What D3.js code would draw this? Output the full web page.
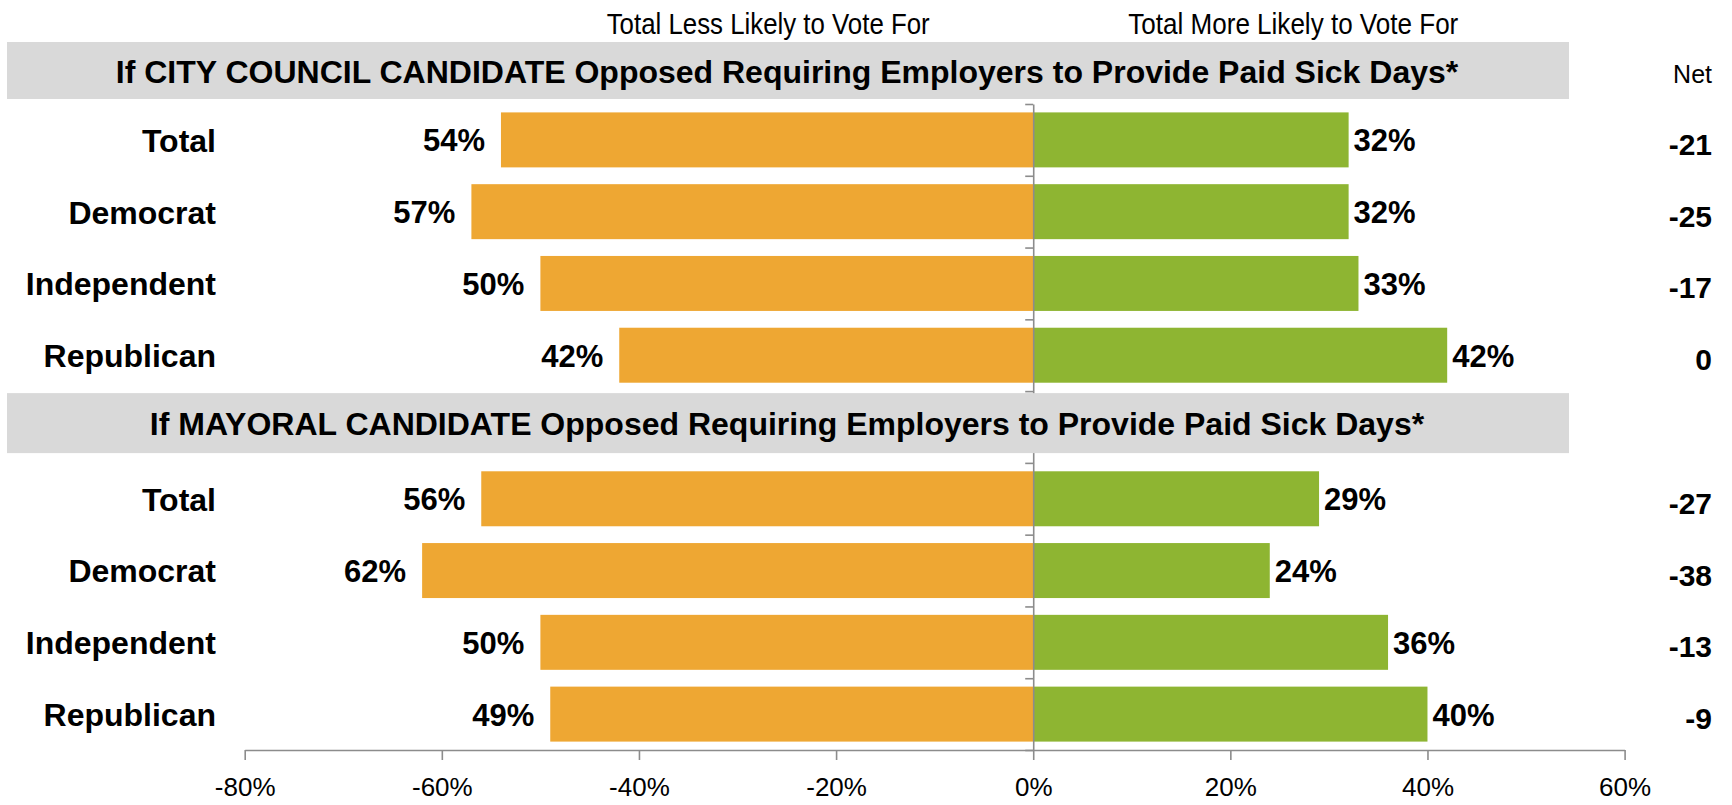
<!DOCTYPE html>
<html>
<head>
<meta charset="utf-8">
<script src="https://cdn.jsdelivr.net/npm/d3@7"></script>
<style>
  html, body { margin: 0; padding: 0; background: #ffffff; }
  svg { display: block; }
  text { font-family: "Liberation Sans", Arial, Helvetica, sans-serif; fill: #000; }
</style>
</head>
<body>
<svg id="chart" width="1732" height="805"></svg>
<script>
// ---------------- data ----------------
const categories = ["Total", "Democrat", "Independent", "Republican"];
const panelTitles = [
  "If CITY COUNCIL CANDIDATE Opposed Requiring Employers to Provide Paid Sick Days*",
  "If MAYORAL CANDIDATE Opposed Requiring Employers to Provide Paid Sick Days*"
];
const councilLess = [54, 57, 50, 42];
const councilMore = [32, 32, 33, 42];
const councilNet  = [-21, -25, -17, 0];
const mayorLess   = [56, 62, 50, 49];
const mayorMore   = [29, 24, 36, 40];
const mayorNet    = [-27, -38, -13, -9];
const xTickValues = [-80, -60, -40, -20, 0, 20, 40, 60];
const headerLess = "Total Less Likely to Vote For";
const headerMore = "Total More Likely to Vote For";
const netHeader = "Net";

// ---------------- layout ----------------
const svg = d3.select("#chart");
const font = '"Liberation Sans", Arial, Helvetica, sans-serif';
const orange = "#EEA733", green = "#8EB532", band = "#D9D9D9", axisGray = "#8C8C8C";

const rows = [];
categories.forEach((c, i) => rows.push({key: "c" + i, cat: c, less: councilLess[i], more: councilMore[i], net: councilNet[i]}));
rows.push({key: "gap"});
categories.forEach((c, i) => rows.push({key: "m" + i, cat: c, less: mayorLess[i], more: mayorMore[i], net: mayorNet[i]}));
const dataRows = rows.filter(r => r.key !== "gap");

const x = d3.scaleLinear().domain([-80, 60]).range([244.7, 1624.6]);
const y = d3.scaleBand().domain(rows.map(r => r.key)).range([104, 750])
  .paddingInner(0.234).paddingOuter(0.117);
const slot = d3.scaleLinear().domain([0, rows.length]).range([104, 750]);

// bars
svg.append("g").selectAll("rect").data(dataRows).join("rect")
  .attr("x", d => x(-d.less)).attr("y", d => y(d.key))
  .attr("width", d => x(0) - x(-d.less)).attr("height", y.bandwidth())
  .attr("fill", orange);
svg.append("g").selectAll("rect").data(dataRows).join("rect")
  .attr("x", x(0)).attr("y", d => y(d.key))
  .attr("width", d => x(d.more) - x(0)).attr("height", y.bandwidth())
  .attr("fill", green);

// vertical axis at 0 with ticks on category boundaries
const yAxis = svg.append("g").attr("transform", `translate(${x(0)},0)`)
  .call(d3.axisLeft(slot).tickValues(d3.range(0, rows.length + 1)).tickSize(8).tickSizeOuter(0).tickFormat(""));
yAxis.selectAll("path, line").attr("stroke", axisGray).attr("stroke-width", 1.6);

// bottom x axis
const xAxis = svg.append("g").attr("transform", `translate(0,750)`)
  .call(d3.axisBottom(x).tickValues(xTickValues).tickSize(10).tickSizeOuter(0).tickPadding(18)
    .tickFormat(d => d + "%"));
xAxis.selectAll("path, line").attr("stroke", axisGray).attr("stroke-width", 1.6);
xAxis.selectAll("text").attr("font-family", font).attr("font-size", 26).attr("fill", "#000");

// gray title bands
const gapTop = y("gap") - y.step() * 0.117;
const bands = [{y0: 42, h: 57}, {y0: gapTop + 2, h: 60}];
bands.forEach((b, i) => {
  svg.append("rect").attr("x", 7).attr("y", b.y0).attr("width", 1562).attr("height", b.h).attr("fill", band);
  svg.append("text").attr("x", 787).attr("y", b.y0 + b.h / 2 + 12)
    .attr("text-anchor", "middle").attr("font-size", 32).attr("font-weight", "bold")
    .text(panelTitles[i]);
});

// headers
svg.append("text").attr("x", 606.7).attr("y", 34.3).attr("font-size", 29)
  .attr("textLength", 323).attr("lengthAdjust", "spacingAndGlyphs").text(headerLess);
svg.append("text").attr("x", 1128.3).attr("y", 34.3).attr("font-size", 29)
  .attr("textLength", 330).attr("lengthAdjust", "spacingAndGlyphs").text(headerMore);
svg.append("text").attr("x", 1712).attr("y", 83.3).attr("font-size", 25)
  .attr("text-anchor", "end").text(netHeader);

// category labels
svg.append("g").selectAll("text").data(dataRows).join("text")
  .attr("x", 216).attr("y", d => y(d.key) + y.bandwidth() / 2).attr("dy", "0.37em")
  .attr("text-anchor", "end").attr("font-size", 32).attr("font-weight", "bold")
  .text(d => d.cat);

// value labels
svg.append("g").selectAll("text").data(dataRows).join("text")
  .attr("x", d => x(-d.less) - 16).attr("y", d => y(d.key) + y.bandwidth() / 2).attr("dy", "0.37em")
  .attr("text-anchor", "end").attr("font-size", 31).attr("font-weight", "bold")
  .text(d => d.less + "%");
svg.append("g").selectAll("text").data(dataRows).join("text")
  .attr("x", d => x(d.more) + 5).attr("y", d => y(d.key) + y.bandwidth() / 2).attr("dy", "0.37em")
  .attr("text-anchor", "start").attr("font-size", 31).attr("font-weight", "bold")
  .text(d => d.more + "%");

// net labels
svg.append("g").selectAll("text").data(dataRows).join("text")
  .attr("x", 1712).attr("y", d => y(d.key) + y.bandwidth() / 2).attr("dy", "0.5em")
  .attr("text-anchor", "end").attr("font-size", 30).attr("font-weight", "bold")
  .text(d => d.net);
</script>
</body>
</html>
